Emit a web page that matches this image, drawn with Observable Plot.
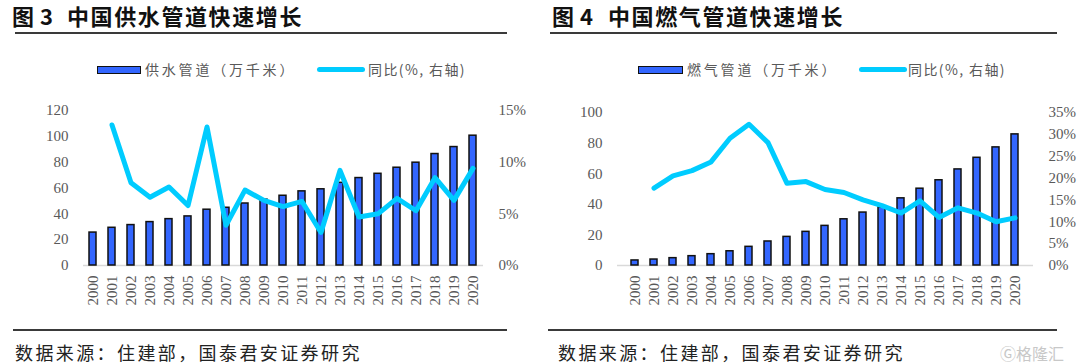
<!DOCTYPE html>
<html><head><meta charset="utf-8">
<script src="https://cdn.jsdelivr.net/npm/d3@7"></script>
<script src="https://cdn.jsdelivr.net/npm/@observablehq/plot@0.6"></script>
<style>
html,body{margin:0;padding:0;background:#fff;}
#page{position:relative;width:1080px;height:364px;overflow:hidden;background:#fff;}
.abs{position:absolute;white-space:pre;}
.title{font-family:"Noto Sans CJK SC";font-weight:700;font-size:22px;color:#111;line-height:1;letter-spacing:1.6px;}
.rule{position:absolute;background:#3a3a3a;height:2px;}
.leg{font-family:"Noto Sans CJK SC";font-size:14px;color:#595959;line-height:1;letter-spacing:1.4px;}
.leg.wide{letter-spacing:2.8px;}
.src{font-family:"Noto Sans CJK SC";font-size:18px;color:#222;line-height:1;letter-spacing:2.4px;}
.swbar{position:absolute;background:#3366ff;border:1.5px solid #111;box-sizing:border-box;height:8px;}
.swline{position:absolute;background:#00ccff;height:5px;border-radius:3px;}
</style></head>
<body><div id="page">
<span class="abs title" style="left:12px;top:4px;">图</span>
<span class="abs title" style="left:40px;top:4px;">3</span>
<span class="abs title" style="left:67px;top:4px;">中国供水管道快速增长</span>
<div class="rule" style="left:15px;top:32px;width:492px;"></div>
<span class="abs title" style="left:552px;top:4px;">图</span>
<span class="abs title" style="left:580px;top:4px;">4</span>
<span class="abs title" style="left:608px;top:4px;">中国燃气管道快速增长</span>
<div class="rule" style="left:550px;top:32px;width:507px;"></div>

<div class="swbar" style="left:97px;top:66px;width:44px;"></div>
<span class="abs leg wide" style="left:145px;top:62px;">供水管道（万千米）</span>
<div class="swline" style="left:317px;top:67px;width:48px;"></div>
<span class="abs leg" style="left:368px;top:62px;">同比(%, 右轴)</span>

<div class="swbar" style="left:638px;top:66px;width:45px;"></div>
<span class="abs leg wide" style="left:687px;top:62px;">燃气管道（万千米）</span>
<div class="swline" style="left:859px;top:67px;width:48px;"></div>
<span class="abs leg" style="left:908px;top:62px;">同比(%, 右轴)</span>

<div id="c1" class="abs" style="left:0;top:90px;"></div>
<div id="c2" class="abs" style="left:540px;top:90px;"></div>

<div class="rule" style="left:13px;top:329px;width:494px;"></div>
<div class="rule" style="left:548px;top:329px;width:509px;"></div>
<span class="abs src" style="left:15px;top:343px;">数据来源：住建部，国泰君安证券研究</span>
<span class="abs src" style="left:558px;top:343px;">数据来源：住建部，国泰君安证券研究</span>
<span class="abs" style="left:1000px;top:345px;font-family:'Noto Sans CJK SC';font-size:16px;color:#c8c8c8;line-height:1;">Ⓖ格隆汇</span>
</div>
<script>
const years = ["2000","2001","2002","2003","2004","2005","2006","2007","2008","2009","2010","2011","2012","2013","2014","2015","2016","2017","2018","2019","2020"];
const waterPipe = [25.5, 29.2, 31.3, 33.6, 35.9, 38.0, 43.2, 44.7, 48.0, 51.0, 54.0, 57.4, 59.0, 64.0, 67.7, 71.0, 75.7, 79.6, 86.3, 91.7, 100.5];
const waterYoY = [null, 13.6, 8.0, 6.6, 7.6, 5.8, 13.4, 3.9, 7.3, 6.3, 5.7, 6.2, 3.2, 9.2, 4.7, 5.0, 6.5, 5.3, 8.5, 6.3, 9.4];
const gasPipe = [3.3, 3.9, 4.8, 6.1, 7.4, 9.3, 12.2, 15.7, 18.7, 22.0, 25.9, 30.2, 34.6, 38.0, 43.9, 50.2, 55.7, 62.8, 70.4, 77.2, 85.7];
const gasYoY = [null, 17.7, 20.5, 21.7, 23.7, 29.1, 32.3, 28.1, 18.8, 19.2, 17.4, 16.7, 15.0, 13.7, 12.0, 14.8, 11.0, 13.2, 12.0, 10.0, 10.9];
const waterLeftTicks = [0, 20, 40, 60, 80, 100, 120];
const waterRightTicks = [0, 5, 10, 15];
const gasLeftTicks = [0, 20, 40, 60, 80, 100];
const gasRightTicks = [0, 5, 10, 15, 20, 25, 30, 35];

function chart({pipe, yoy, leftTicks, rightTicks, leftMax, rightMax, width, marginLeft, marginRight, marginTop}) {
  const k = leftMax / rightMax;
  const rows = years.map((y, i) => ({year: y, pipe: pipe[i], yoy: yoy[i] == null ? null : yoy[i] * k}));
  const lineRows = rows.filter(d => d.yoy != null);
  return Plot.plot({
    width, height: 230,
    marginLeft, marginRight, marginTop, marginBottom: 55,
    style: {fontFamily: "'Liberation Serif', serif", fontSize: "15px", color: "#595959", background: "#fff"},
    x: {type: "band", domain: years, paddingInner: 0.63, paddingOuter: 0.315},
    y: {domain: [0, leftMax]},
    marks: [
      Plot.ruleY([0], {stroke: "#d9d9d9", strokeWidth: 1.5}),
      Plot.barY(rows, {x: "year", y: "pipe", fill: "#3366ff", stroke: "#111", strokeWidth: 1.5}),
      Plot.line(lineRows, {x: "year", y: "yoy", stroke: "#00ccff", strokeWidth: 5, strokeLinejoin: "round", strokeLinecap: "round"}),
      Plot.axisY(leftTicks, {anchor: "left", tickSize: 0, tickPadding: 15, label: null}),
      Plot.axisY(rightTicks.map(t => t * k), {anchor: "right", tickSize: 0, tickPadding: 15, label: null, tickFormat: d => Math.round(d / k) + "%"}),
      Plot.axisX({tickRotate: -90, tickSize: 0, tickPadding: 10, label: null})
    ]
  });
}

document.getElementById("c1").append(chart({pipe: waterPipe, yoy: waterYoY, leftTicks: waterLeftTicks, rightTicks: waterRightTicks, leftMax: 120, rightMax: 15, width: 540, marginLeft: 83, marginRight: 57, marginTop: 20}));
document.getElementById("c2").append(chart({pipe: gasPipe, yoy: gasYoY, leftTicks: gasLeftTicks, rightTicks: gasRightTicks, leftMax: 100, rightMax: 35, width: 540, marginLeft: 77, marginRight: 47, marginTop: 22}));
</script>
</body></html>
